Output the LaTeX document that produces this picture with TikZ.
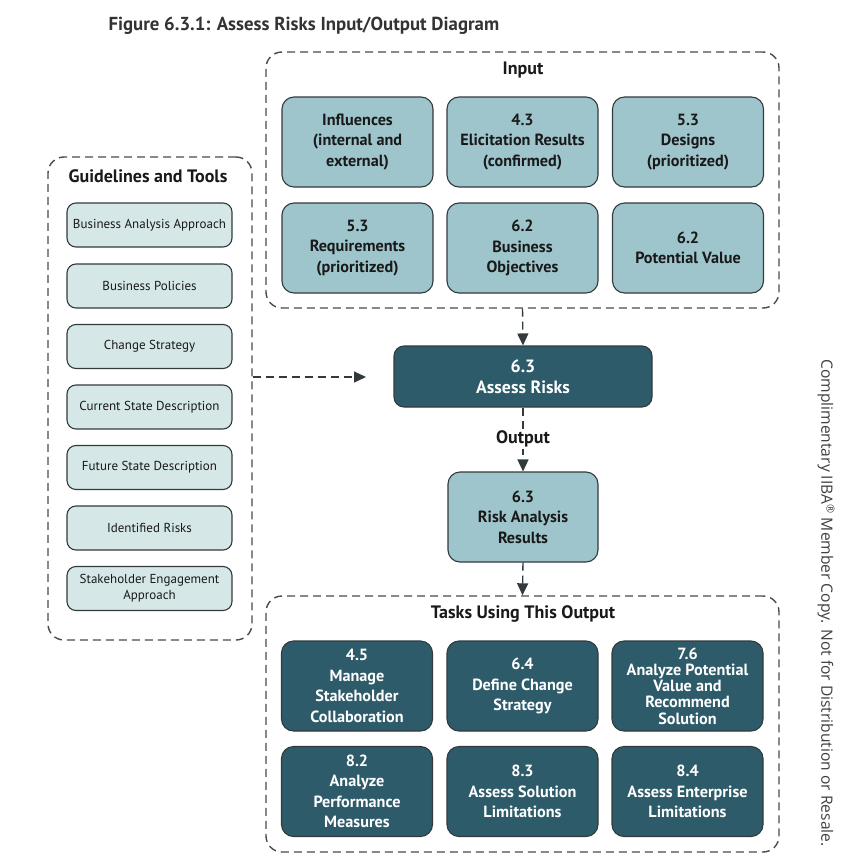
\documentclass[tikz,border=0pt]{standalone}
\usepackage{fontspec}
\setmainfont{PT Sans}
\newfontfamily\wmfont{Open Sans}
\usetikzlibrary{arrows.meta}
\definecolor{lightteal}{HTML}{9EC5CB}
\definecolor{darkteal}{HTML}{2E5B6A}
\definecolor{paleteal}{HTML}{D5E7E7}
\definecolor{edge}{HTML}{333A3D}
\definecolor{dashc}{HTML}{4A4A4A}
\tikzset{
  inbox/.style={draw=edge, line width=1.1pt, fill=lightteal, rounded corners=12pt,
    minimum width=151pt, minimum height=90pt, align=center, text=black!90,
    font=\bfseries\fontsize{16.2}{20.5}\selectfont, inner sep=2pt},
  taskbox/.style={inbox, fill=darkteal, text=white},
  guidebox/.style={draw=edge, line width=1.1pt, fill=paleteal, rounded corners=9pt,
    minimum width=165pt, minimum height=44pt, align=center, text=black!90,
    font=\fontsize{13}{16}\selectfont, inner sep=2pt},
  container/.style={draw=dashc, line width=1.4pt, dash pattern=on 8pt off 5pt,
    rounded corners=16pt},
  ctitle/.style={font=\bfseries\fontsize{18}{21}\selectfont, text=black!90},
  arr/.style={draw=dashc, line width=1.4pt, dash pattern=on 8pt off 5pt,
    -{Triangle[length=12pt,width=11pt]}, color=edge}
}
\begin{document}
\begin{tikzpicture}[x=1pt,y=-1pt]
\useasboundingbox (0,0) rectangle (865,862);
\fill[white] (0,0) rectangle (865,862);

\node[anchor=west, font=\bfseries\fontsize{18.8}{21}\selectfont, text=black!80] (title) at (105,26) {Figure 6.3.1: Assess Risks Input/Output Diagram};

% containers
\node[container, minimum width=513pt, minimum height=256pt] (inputc) at (522.5,180) {};
\node[container, minimum width=204pt, minimum height=483pt] (guidec) at (150,398.5) {};
\node[container, minimum width=513pt, minimum height=256pt] (tasksc) at (522.5,724) {};

\node[ctitle] (inputt) at (523,70) {Input};
\node[ctitle] (guidet) at (148,176) {Guidelines and Tools};
\node[ctitle] (taskst) at (523,614) {Tasks Using This Output};

% inputs
\node[inbox] (in1) at (357.5,142) {Influences\\(internal and\\external)};
\node[inbox] (in2) at (522.5,142) {4.3\\Elicitation Results\\(confirmed)};
\node[inbox] (in3) at (688,142) {5.3\\Designs\\(prioritized)};
\node[inbox] (in4) at (357.5,248) {5.3\\Requirements\\(prioritized)};
\node[inbox] (in5) at (522.5,248) {6.2\\Business\\Objectives};
\node[inbox] (in6) at (688,248) {6.2\\Potential Value};

% guidelines
\node[guidebox] (g1) at (149.5,225) {Business Analysis Approach};
\node[guidebox] (g2) at (149.5,286) {Business Policies};
\node[guidebox] (g3) at (149.5,346.5) {Change Strategy};
\node[guidebox] (g4) at (149.5,407) {Current State Description};
\node[guidebox] (g5) at (149.5,467.5) {Future State Description};
\node[guidebox] (g6) at (149.5,528) {Identified Risks};
\node[guidebox] (g7) at (149.5,588.5) {Stakeholder Engagement\\Approach};

% task
\node[taskbox, minimum width=258pt, minimum height=61pt, rounded corners=10pt,
  font=\bfseries\fontsize{17.8}{21}\selectfont] (assess) at (523,376.5) {6.3\\Assess Risks};
\node[inbox, minimum width=150pt] (risk) at (523,517) {6.3\\Risk Analysis\\Results};

% outputs
\node[taskbox] (t1) at (357,686) {4.5\\Manage\\Stakeholder\\Collaboration};
\node[taskbox] (t2) at (522.5,686) {6.4\\Define Change\\Strategy};
\node[taskbox, font=\bfseries\fontsize{16.2}{16.2}\selectfont] (t3) at (687.5,686) {7.6\\Analyze Potential\\Value and\\Recommend\\Solution};
\node[taskbox] (t4) at (357,791.5) {8.2\\Analyze\\Performance\\Measures};
\node[taskbox] (t5) at (522.5,791.5) {8.3\\Assess Solution\\Limitations};
\node[taskbox] (t6) at (687.5,791.5) {8.4\\Assess Enterprise\\Limitations};

% connectors
\coordinate (gend) at (366,377);
\draw[arr] (guidec.east |- gend) -- (gend);
\draw[arr] (inputc.south) -- (assess.north);
\draw[arr] (assess.south) -- (risk.north);
\node[ctitle, fill=white, inner sep=2pt] (outl) at (523,439) {Output};
\draw[arr] (risk.south) -- (tasksc.north);

% watermark
\node[rotate=-90, font=\wmfont\fontsize{15.6}{18}\selectfont, text=black!75] (wm) at (826,603) {Complimentary IIBA\textsuperscript{\textregistered} Member Copy. Not for Distribution or Resale.};
\end{tikzpicture}
\end{document}
